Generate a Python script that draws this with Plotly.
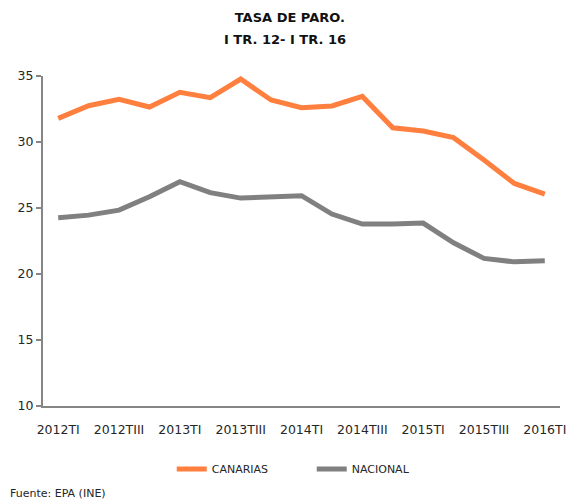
import plotly.graph_objects as go

quarters = ["2012TI", "2012TII", "2012TIII", "2012TIV",
            "2013TI", "2013TII", "2013TIII", "2013TIV",
            "2014TI", "2014TII", "2014TIII", "2014TIV",
            "2015TI", "2015TII", "2015TIII", "2015TIV",
            "2016TI"]
canarias = [31.79, 32.75, 33.23, 32.65, 33.76, 33.36, 34.77, 33.18,
            32.6, 32.73, 33.45, 31.08, 30.83, 30.33, 28.63, 26.86, 26.05]
nacional = [24.26, 24.46, 24.84, 25.85, 26.99, 26.16, 25.75, 25.83,
            25.93, 24.54, 23.78, 23.78, 23.86, 22.36, 21.18, 20.92, 21.0]
tick_labels = quarters[::2]
y_ticks = [10, 15, 20, 25, 30, 35]

FONT = "DejaVu Sans, Liberation Sans, sans-serif"
TXT = "#262626"

fig = go.Figure()
fig.add_trace(go.Scatter(x=quarters, y=canarias, name="CANARIAS", mode="lines",
                         line=dict(color="#FF7F3F", width=5)))
fig.add_trace(go.Scatter(x=quarters, y=nacional, name="NACIONAL", mode="lines",
                         line=dict(color="#808080", width=5)))

fig.update_layout(
    width=574, height=502,
    margin=dict(l=43, r=8, t=76, b=96),
    paper_bgcolor="white", plot_bgcolor="white",
    font=dict(family=FONT, color=TXT, size=12),
    title=dict(text="<b>TASA DE PARO.</b>",
               x=0.505, xanchor="center", xref="container",
               y=1 - 17 / 502, yanchor="middle", yref="container",
               font=dict(size=13, color="#111111")),
    showlegend=True,
    legend=dict(orientation="h", x=0.249, xanchor="left",
                y=-0.191, yanchor="middle",
                font=dict(size=11, color=TXT), itemwidth=30,
                entrywidth=95, entrywidthmode="pixels"),
    xaxis=dict(type="category", categoryorder="array", categoryarray=quarters,
               range=[-0.5, len(quarters) - 0.5],
               tickmode="array", tickvals=tick_labels, ticktext=tick_labels,
               showgrid=False, showline=True, linecolor="#868686", linewidth=2,
               ticks="", ticklabelstandoff=11,
               tickfont=dict(size=12.5, color=TXT), zeroline=False),
    yaxis=dict(range=[10, 35], tickvals=y_ticks, showgrid=False,
               showline=True, linecolor="#868686", linewidth=2,
               ticks="outside", ticklen=5, tickcolor="#868686", tickwidth=2,
               tickfont=dict(size=12.5, color=TXT), zeroline=False),
)

fig.add_annotation(text="<b>I TR. 12- I TR. 16</b>", xref="paper", yref="paper",
                   x=(288 - 43) / 523, y=(406 - 40) / 330,
                   xanchor="center", yanchor="middle", showarrow=False,
                   font=dict(size=13, color="#111111"))

fig.add_annotation(text="Fuente: EPA (INE)", xref="paper", yref="paper",
                   x=(8 - 43) / 523, y=-(493 - 406) / 330,
                   xanchor="left", yanchor="middle",
                   showarrow=False, font=dict(size=11, color=TXT))

fig.write_html("out.html", config={"displayModeBar": False},
               post_script="document.body.style.margin='0';")
